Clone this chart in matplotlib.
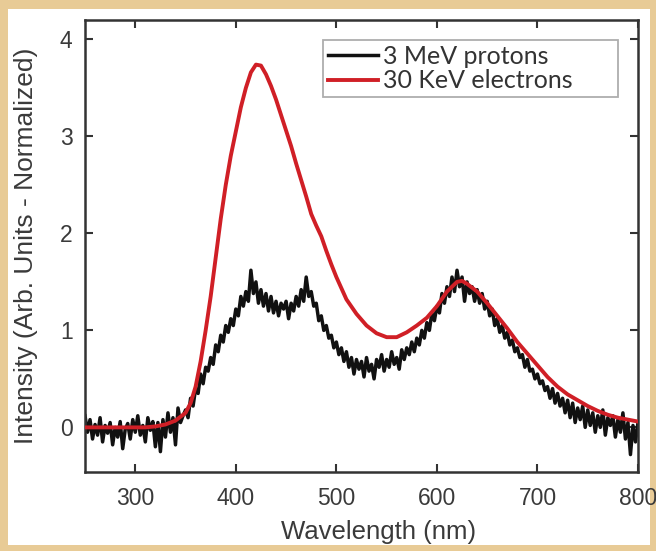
import numpy as np
import matplotlib
matplotlib.use("Agg")
import matplotlib.pyplot as plt
from matplotlib.patches import Rectangle

# ---- data ----
wl_protons_start, wl_protons_step = 250.0, 2.5
protons = [
    0.12, -0.05, 0.08, -0.12, 0.03, -0.08, 0.10, -0.15, 0.02, -0.06,
    0.05, -0.18, 0.00, -0.10, 0.06, -0.22, -0.02, 0.04, -0.12, 0.08,
    -0.05, 0.12, -0.08, 0.02, -0.15, 0.10, -0.03, 0.06, -0.20, 0.05,
    -0.25, 0.08, -0.10, 0.15, -0.05, 0.10, -0.18, 0.20, 0.05, 0.12,
    0.18, 0.10, 0.30, 0.22, 0.40, 0.35, 0.55, 0.45, 0.62, 0.58,
    0.72, 0.65, 0.85, 0.78, 0.95, 0.88, 1.05, 0.98, 1.12, 1.05,
    1.22, 1.15, 1.35, 1.25, 1.40, 1.30, 1.62, 1.38, 1.50, 1.28,
    1.42, 1.25, 1.38, 1.20, 1.35, 1.18, 1.30, 1.15, 1.28, 1.22,
    1.30, 1.12, 1.28, 1.20, 1.35, 1.25, 1.42, 1.30, 1.55, 1.35,
    1.40, 1.25, 1.28, 1.10, 1.15, 1.00, 1.05, 0.92, 0.95, 0.82,
    0.88, 0.75, 0.82, 0.68, 0.78, 0.62, 0.72, 0.55, 0.70, 0.60,
    0.68, 0.52, 0.72, 0.58, 0.65, 0.50, 0.70, 0.62, 0.75, 0.58,
    0.70, 0.62, 0.78, 0.65, 0.72, 0.60, 0.80, 0.70, 0.82, 0.75,
    0.88, 0.78, 0.92, 0.85, 1.00, 0.92, 1.08, 1.00, 1.18, 1.10,
    1.25, 1.18, 1.38, 1.28, 1.45, 1.35, 1.55, 1.40, 1.62, 1.45,
    1.55, 1.30, 1.50, 1.38, 1.45, 1.30, 1.42, 1.28, 1.38, 1.22,
    1.30, 1.15, 1.22, 1.05, 1.12, 0.98, 1.05, 0.92, 0.98, 0.85,
    0.90, 0.78, 0.82, 0.72, 0.75, 0.62, 0.70, 0.58, 0.60, 0.50,
    0.55, 0.45, 0.48, 0.38, 0.42, 0.30, 0.40, 0.25, 0.35, 0.22,
    0.30, 0.15, 0.28, 0.10, 0.25, 0.05, 0.20, 0.08, 0.22, 0.00,
    0.18, 0.02, 0.15, -0.05, 0.12, 0.00, 0.18, -0.08, 0.10, 0.02,
    0.12, -0.10, 0.08, -0.05, 0.15, -0.12, 0.05, -0.28, 0.02, -0.15,
    0.05,
]
wl_protons = wl_protons_start + wl_protons_step * np.arange(len(protons))

wl_electrons = [250, 260, 270, 280, 290, 300, 310, 320, 330, 340, 350, 355, 360, 365,
                370, 375, 380, 385, 390, 395, 400, 405, 410, 415, 420, 425, 430, 435,
                440, 445, 450, 455, 460, 465, 470, 475, 480, 485, 490, 495, 500, 510,
                520, 530, 540, 550, 560, 570, 580, 590, 600, 610, 620, 625, 630, 640,
                650, 660, 670, 680, 690, 700, 710, 720, 730, 740, 750, 760, 770, 780,
                790, 800]
electrons = [0.0, 0.0, 0.0, 0.0, 0.0, 0.0, 0.0, 0.01, 0.03, 0.07, 0.15, 0.25, 0.42, 0.68,
             1.0, 1.35, 1.75, 2.15, 2.5, 2.8, 3.05, 3.3, 3.5, 3.66, 3.74, 3.73, 3.64, 3.52,
             3.38, 3.22, 3.06, 2.9, 2.72, 2.55, 2.38, 2.2, 2.08, 1.97, 1.82, 1.68, 1.55, 1.32,
             1.17, 1.05, 0.97, 0.93, 0.93, 0.98, 1.05, 1.13, 1.25, 1.4, 1.5, 1.51, 1.48, 1.4,
             1.28, 1.15, 1.02, 0.88, 0.76, 0.64, 0.52, 0.42, 0.34, 0.28, 0.22, 0.17, 0.13, 0.1,
             0.08, 0.06]

labels = ["3 MeV protons", "30 KeV electrons"]
xticks = [300, 400, 500, 600, 700, 800]
yticks = [0, 1, 2, 3, 4]

# ---- figure ----
W, H = 656, 551
fig = plt.figure(figsize=(W / 100, H / 100), dpi=100, facecolor="#e8cb96")
panel = Rectangle((8 / W, 1 - 545 / H), (650 - 8) / W, (545 - 9) / H,
                  transform=fig.transFigure, facecolor="white",
                  edgecolor="none", zorder=-10)
fig.add_artist(panel)

L, R, T, B = 85, 638, 20, 472
ax = fig.add_axes([L / W, 1 - B / H, (R - L) / W, (B - T) / H])
ax.set_zorder(5)
ax.set_facecolor("white")

ax.plot(wl_protons, protons, color="#111111", lw=2.5, label=labels[0], zorder=2)
ax.plot(wl_electrons, electrons, color="#d01f26", lw=2.8, label=labels[1], zorder=3)

ax.set_xlim(250, 800)
ax.set_ylim(-0.46, 4.2)
ax.set_xticks(xticks)
ax.set_yticks(yticks)

for lab in ax.get_xticklabels() + ax.get_yticklabels():
    lab.set_fontfamily("Liberation Sans")
    lab.set_fontsize(16.5)
    lab.set_color("#3a3a3a")

ax.tick_params(direction="in", top=True, right=True, length=6, width=1.5,
               color="#333333")
ax.tick_params(axis="x", pad=11)
ax.tick_params(axis="y", pad=9)
for s in ax.spines.values():
    s.set_linewidth(1.8)
    s.set_color("#333333")

ax.set_xlabel("Wavelength (nm)", fontfamily="Liberation Sans", fontsize=18.5,
              color="#3a3a3a", va="top")
ax.xaxis.set_label_coords(0.53, (B - 520) / (B - T))
ax.set_ylabel("Intensity (Arb. Units - Normalized)", fontfamily="Liberation Sans",
              fontsize=19, color="#3a3a3a")
ax.yaxis.set_label_coords((38 - L) / (R - L), 0.5)

# legend box spans x 323..618 px, top at y 40 px
lx0 = (323 - L) / (R - L)
lw_ = (618 - 323) / (R - L)
ly_top = (B - 40) / (B - T)
leg = ax.legend(loc="upper left", bbox_to_anchor=(lx0, ly_top - 0.2, lw_, 0.2),
                mode="expand", frameon=True, fancybox=False, edgecolor="#999999",
                prop=dict(family="Lato", size=18), handlelength=2.0,
                handletextpad=0.2, borderpad=0.2, labelspacing=0.05,
                borderaxespad=0.0)
leg.get_frame().set_linewidth(1.3)
for t in leg.get_texts():
    t.set_color("#333333")

fig.savefig("out.png", dpi=100, facecolor=fig.get_facecolor())
